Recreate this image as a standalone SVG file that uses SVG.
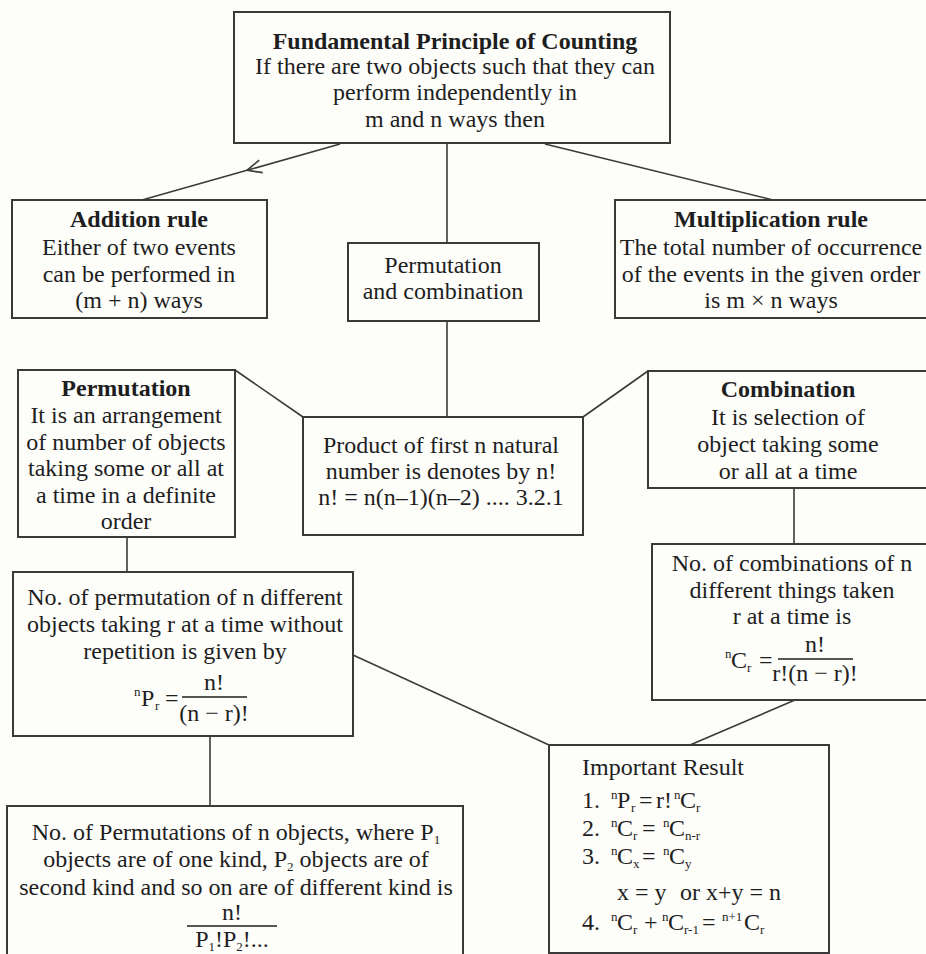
<svg xmlns="http://www.w3.org/2000/svg" width="926" height="954" viewBox="0 0 926 954">
<style>
.bg{fill:#fdfdfa}
.box{fill:#fdfdfa;stroke:#3a3a3a;stroke-width:2}
.conn{fill:none;stroke:#3a3a3a;stroke-width:1.6}
.t{font-family:"Liberation Serif","DejaVu Serif",serif;font-size:24px;fill:#1e1e1e}
.c{text-anchor:middle}
.b{font-weight:bold}
.s{font-size:13px}
.bar{stroke:#1e1e1e;stroke-width:1.3}
</style>
<defs>
<marker id="chev" markerUnits="userSpaceOnUse" viewBox="-17 -9 19 18" refX="0" refY="0" markerWidth="19" markerHeight="18" orient="auto" overflow="visible">
<path d="M-14.5,-6.5 L0,0 L-14.5,6.5" fill="none" stroke="#3a3a3a" stroke-width="1.6"/>
</marker>
</defs>
<rect class="bg" x="0" y="0" width="926" height="954"/>

<g id="connectors">
<path class="conn" d="M340,144 L247,170.3 L142,200" marker-mid="url(#chev)"/>
<line class="conn" x1="447" y1="143" x2="447" y2="243"/>
<line class="conn" x1="545" y1="144" x2="773" y2="200"/>
<line class="conn" x1="447" y1="321" x2="447" y2="417"/>
<line class="conn" x1="235" y1="370" x2="303" y2="417"/>
<line class="conn" x1="583" y1="417" x2="648" y2="371"/>
<line class="conn" x1="127" y1="537" x2="127" y2="572"/>
<line class="conn" x1="794" y1="488" x2="794" y2="544"/>
<line class="conn" x1="353" y1="655" x2="549" y2="745"/>
<line class="conn" x1="795" y1="700" x2="690" y2="745"/>
<line class="conn" x1="210" y1="736" x2="210" y2="806"/>
</g>

<g id="fundamental">
<rect class="box" x="234" y="12" width="436" height="131"/>
<text class="t c b" x="455" y="49">Fundamental Principle of Counting</text>
<text class="t c" x="455" y="74">If there are two objects such that they can</text>
<text class="t c" x="455" y="100">perform independently in</text>
<text class="t c" x="455" y="127">m and n ways then</text>
</g>

<g id="addition">
<rect class="box" x="12" y="200" width="255" height="118"/>
<text class="t c b" x="139" y="227">Addition rule</text>
<text class="t c" x="139" y="255">Either of two events</text>
<text class="t c" x="139" y="282">can be performed in</text>
<text class="t c" x="139" y="308">(m + n) ways</text>
</g>

<g id="permcomb">
<rect class="box" x="348" y="243" width="191" height="78"/>
<text class="t c" x="443" y="273">Permutation</text>
<text class="t c" x="443" y="299">and combination</text>
</g>

<g id="multiplication">
<rect class="box" x="615" y="200" width="330" height="118"/>
<text class="t c b" x="771" y="227">Multiplication rule</text>
<text class="t c" x="771" y="255">The total number of occurrence</text>
<text class="t c" x="771" y="282">of the events in the given order</text>
<text class="t c" x="771" y="308">is m × n ways</text>
</g>

<g id="permutation">
<rect class="box" x="18" y="370" width="217" height="167"/>
<text class="t c b" x="126" y="396">Permutation</text>
<text class="t c" x="126" y="423">It is an arrangement</text>
<text class="t c" x="126" y="450">of number of objects</text>
<text class="t c" x="126" y="476">taking some or all at</text>
<text class="t c" x="126" y="503">a time in a definite</text>
<text class="t c" x="126" y="529">order</text>
</g>

<g id="product">
<rect class="box" x="303" y="417" width="280" height="118"/>
<text class="t c" x="441" y="453">Product of first n natural</text>
<text class="t c" x="441" y="479">number is denotes by n!</text>
<text class="t c" x="441" y="505">n! = n(n–1)(n–2) .... 3.2.1</text>
</g>

<g id="combination">
<rect class="box" x="648" y="371" width="295" height="117"/>
<text class="t c b" x="788" y="397">Combination</text>
<text class="t c" x="788" y="425">It is selection of</text>
<text class="t c" x="788" y="452">object taking some</text>
<text class="t c" x="788" y="479">or all at a time</text>
</g>

<g id="combinations-formula">
<rect class="box" x="652" y="544" width="291" height="156"/>
<text class="t c" x="792" y="571">No. of combinations of n</text>
<text class="t c" x="792" y="598">different things taken</text>
<text class="t c" x="792" y="624">r at a time is</text>
<text class="t"><tspan class="s" x="725" y="658">n</tspan><tspan x="731" y="668">C</tspan><tspan class="s" x="747" y="672">r</tspan><tspan x="759" y="668">=</tspan></text>
<line class="bar" x1="778" y1="659" x2="853" y2="659"/>
<text class="t c" x="815" y="652">n!</text>
<text class="t c" x="815" y="681">r!(n − r)!</text>
</g>

<g id="permutation-formula">
<rect class="box" x="13" y="572" width="340" height="164"/>
<text class="t c" x="185" y="605">No. of permutation of n different</text>
<text class="t c" x="185" y="632">objects taking r at a time without</text>
<text class="t c" x="185" y="659">repetition is given by</text>
<text class="t"><tspan class="s" x="134" y="696">n</tspan><tspan x="141" y="706">P</tspan><tspan class="s" x="155" y="710">r</tspan><tspan x="165" y="706">=</tspan></text>
<line class="bar" x1="182" y1="697" x2="247" y2="697"/>
<text class="t c" x="214" y="690">n!</text>
<text class="t c" x="214" y="721">(n − r)!</text>
</g>

<g id="important-result">
<rect class="box" x="549" y="745" width="280" height="208"/>
<text class="t" x="582" y="775">Important Result</text>
<text class="t"><tspan x="582" y="808">1.</tspan><tspan class="s" x="611" y="799">n</tspan><tspan x="617" y="808">P</tspan><tspan class="s" x="631" y="812">r</tspan><tspan x="639" y="808">=</tspan><tspan x="656" y="808">r!</tspan><tspan class="s" x="674" y="799">n</tspan><tspan x="680" y="808">C</tspan><tspan class="s" x="696" y="812">r</tspan></text>
<text class="t"><tspan x="582" y="836">2.</tspan><tspan class="s" x="611" y="827">n</tspan><tspan x="617" y="836">C</tspan><tspan class="s" x="633" y="840">r</tspan><tspan x="642" y="836">=</tspan><tspan class="s" x="663" y="827">n</tspan><tspan x="669" y="836">C</tspan><tspan class="s" x="685" y="840">n-r</tspan></text>
<text class="t"><tspan x="582" y="864">3.</tspan><tspan class="s" x="611" y="855">n</tspan><tspan x="617" y="864">C</tspan><tspan class="s" x="633" y="868">x</tspan><tspan x="642" y="864">=</tspan><tspan class="s" x="663" y="855">n</tspan><tspan x="669" y="864">C</tspan><tspan class="s" x="685" y="868">y</tspan></text>
<text class="t"><tspan x="617" y="900">x = y</tspan><tspan x="680" y="900">or x+y = n</tspan></text>
<text class="t"><tspan x="582" y="930">4.</tspan><tspan class="s" x="611" y="921">n</tspan><tspan x="617" y="930">C</tspan><tspan class="s" x="633" y="934">r</tspan><tspan x="644" y="930">+</tspan><tspan class="s" x="662" y="921">n</tspan><tspan x="668" y="930">C</tspan><tspan class="s" x="684" y="934">r-1</tspan><tspan x="702" y="930">=</tspan><tspan class="s" x="722" y="921">n+1</tspan><tspan x="744" y="930">C</tspan><tspan class="s" x="760" y="934">r</tspan></text>
</g>

<g id="multiset-permutation">
<rect class="box" x="7" y="806" width="456" height="160"/>
<text class="t c" x="236" y="840">No. of Permutations of n objects, where P<tspan class="s" dy="4">1</tspan></text>
<text class="t c" x="236" y="867">objects are of one kind, P<tspan class="s" dy="4">2</tspan><tspan dy="-4"> objects are of</tspan></text>
<text class="t c" x="236" y="895">second kind and so on are of different kind is</text>
<text class="t c" x="232" y="920">n!</text>
<line class="bar" x1="187" y1="926" x2="277" y2="926"/>
<text class="t c" x="232" y="947">P<tspan class="s" dy="4">1</tspan><tspan dy="-4">!P</tspan><tspan class="s" dy="4">2</tspan><tspan dy="-4">!...</tspan></text>
</g>
</svg>
